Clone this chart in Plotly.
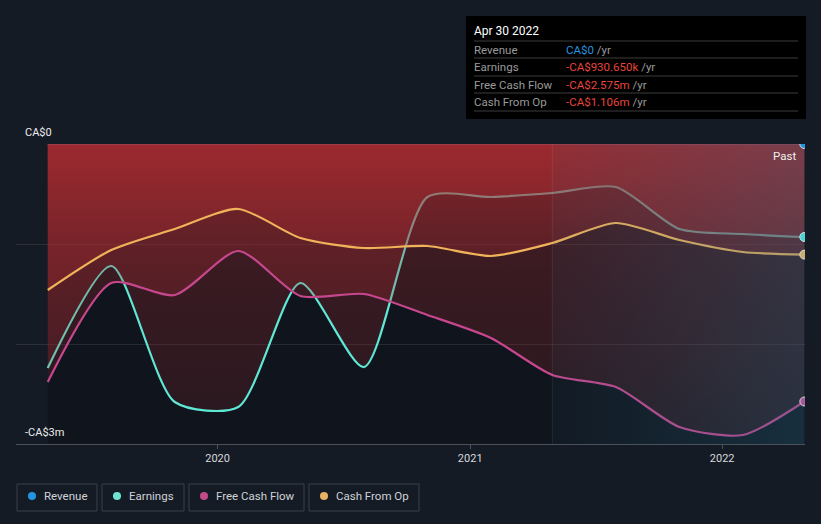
import plotly.graph_objects as go

# ---------------- data (CA$ millions) ----------------
dates = ['2019-04-30', '2019-07-31', '2019-10-31', '2020-01-31', '2020-04-30',
         '2020-07-31', '2020-10-31', '2021-01-31', '2021-04-30', '2021-07-31',
         '2021-10-31', '2022-01-31', '2022-04-30']
revenue = [0, 0, 0, 0, 0, 0, 0, 0, 0, 0, 0, 0, 0]
earnings = [-2.24, -1.22, -2.58, -2.63, -1.39, -2.23, -0.53, -0.53, -0.49, -0.43, -0.85, -0.90, -0.93]
free_cash_flow = [-2.38, -1.39, -1.51, -1.07, -1.52, -1.50, -1.71, -1.94, -2.31, -2.43, -2.83, -2.91, -2.575]
cash_from_op = [-1.46, -1.06, -0.85, -0.65, -0.94, -1.04, -1.02, -1.12, -0.99, -0.79, -0.96, -1.08, -1.106]

series_names = ['Revenue', 'Earnings', 'Free Cash Flow', 'Cash From Op']
series_colors = ['#2394df', '#5ee8d5', '#c7478e', '#f0b35a']
legend_dot_colors = ['#2394df', '#6fe3d2', '#c04a8a', '#e8b262']

tooltip_title = 'Apr 30 2022'
tooltip_values = ['CA$0', '-CA$930.650k', '-CA$2.575m', '-CA$1.106m']
tooltip_value_colors = ['#2394df', '#e8453c', '#e8453c', '#e8453c']

y_labels = ['CA$0', '-CA$3m']
y_label_vals = [0, -3]
past_start = '2021-04-30'
past_end = '2022-04-30'

# ---------------- styling ----------------
BG = '#151b25'
FONT = 'Roboto'
W, H = 821, 524
L, R, T, B = 16, 16, 144, 80
pw, ph = W - L - R, H - T - B


def px2paper_x(px):
    return (px - L) / pw


def px2paper_y(py):
    return (H - B - py) / ph


red_scale = [[0.0, 'rgba(180,45,50,0.13)'], [0.33, 'rgba(180,45,50,0.21)'],
             [0.5, 'rgba(180,45,50,0.24)'], [0.667, 'rgba(180,45,50,0.28)'],
             [0.833, 'rgba(180,45,50,0.36)'], [1.0, 'rgba(180,45,50,0.47)']]
red_grad = dict(type='vertical', colorscale=red_scale, start=-3, stop=0)

fig = go.Figure()

# dark data background
fig.add_shape(type='rect', xref='x', yref='y', x0=dates[0], x1=dates[-1], y0=-3, y1=0,
              fillcolor='#10141c', line_width=0, layer='below')

SM = 0.7
# revenue line
fig.add_trace(go.Scatter(x=dates, y=revenue, mode='lines',
                         line=dict(color=series_colors[0], width=2, shape='spline', smoothing=SM)))
# earnings
fig.add_trace(go.Scatter(x=dates, y=earnings, mode='lines', fill='tozeroy', fillgradient=red_grad,
                         line=dict(color=series_colors[1], width=2.2, shape='spline', smoothing=SM)))
# free cash flow
fig.add_trace(go.Scatter(x=dates, y=free_cash_flow, mode='lines', fill='tozeroy', fillgradient=red_grad,
                         line=dict(color=series_colors[2], width=2.2, shape='spline', smoothing=SM)))
# cash from op
fig.add_trace(go.Scatter(x=dates, y=cash_from_op, mode='lines', fill='tozeroy', fillgradient=red_grad,
                         line=dict(color=series_colors[3], width=2.2, shape='spline', smoothing=SM)))

# "Past" overlay
fig.add_trace(go.Scatter(x=[past_start, past_end, past_end, past_start, past_start],
                         y=[0, 0, -3, -3, 0], mode='lines', line=dict(width=0),
                         fill='toself',
                         fillgradient=dict(type='horizontal',
                                           colorscale=[[0, 'rgba(40,110,140,0.07)'],
                                                       [1, 'rgba(40,110,140,0.30)']])))

# end markers
end_vals = [revenue[-1], earnings[-1], free_cash_flow[-1], cash_from_op[-1]]
marker_cols = ['#2394df', '#45d6d6', '#a55a9e', '#c9ac72']
for v, c in zip(end_vals, marker_cols):
    fig.add_trace(go.Scatter(x=[dates[-1]], y=[v], mode='markers',
                             marker=dict(size=9, color=c, line=dict(color='#d8d8d8', width=1))))

# boundary line of past region
fig.add_shape(type='line', xref='x', yref='y', x0=past_start, x1=past_start, y0=-3, y1=0,
              line=dict(color='rgba(255,255,255,0.08)', width=1))

annotations = []
# y labels
for txt, v in zip(y_labels, y_label_vals):
    annotations.append(dict(text=txt, xref='paper', yref='y', x=px2paper_x(23), y=v,
                            xanchor='left', yanchor='middle', yshift=12, showarrow=False,
                            font=dict(family=FONT, size=11, color='#ececec')))
# Past label
annotations.append(dict(text='Past', xref='paper', yref='y', x=px2paper_x(798), y=0,
                        xanchor='right', yanchor='middle', yshift=-12, showarrow=False,
                        font=dict(family=FONT, size=11.5, color='#f0f0f0')))

shapes = []
# tooltip box
shapes.append(dict(type='rect', xref='paper', yref='paper', x0=px2paper_x(466), x1=px2paper_x(806),
                   y0=px2paper_y(119), y1=px2paper_y(16), fillcolor='#000000', line_width=0))
for ly in [41, 58, 76, 93, 111]:
    shapes.append(dict(type='line', xref='paper', yref='paper', x0=px2paper_x(474), x1=px2paper_x(798),
                       y0=px2paper_y(ly), y1=px2paper_y(ly), line=dict(color='#3c3c3c', width=1)))
annotations.append(dict(text=tooltip_title, xref='paper', yref='paper', x=px2paper_x(472), y=px2paper_y(31),
                        xanchor='left', yanchor='middle', showarrow=False,
                        font=dict(family=FONT, size=12, color='#ffffff')))
row_y = [49.5, 67, 84.5, 102]
for name, val, col, ry in zip(series_names, tooltip_values, tooltip_value_colors, row_y):
    annotations.append(dict(text=name, xref='paper', yref='paper', x=px2paper_x(472), y=px2paper_y(ry),
                            xanchor='left', yanchor='middle', showarrow=False,
                            font=dict(family=FONT, size=11.5, color='#9a9a9a')))
    annotations.append(dict(text=f"<span style='color:{col}'>{val}</span> /yr", xref='paper', yref='paper',
                            x=px2paper_x(564), y=px2paper_y(ry), xanchor='left', yanchor='middle',
                            showarrow=False, font=dict(family=FONT, size=11.5, color='#9a9a9a')))

# custom legend
legend_boxes = [(17, 97), (102, 184), (189, 304), (309, 419)]
for (bx0, bx1), name, dc in zip(legend_boxes, series_names, legend_dot_colors):
    shapes.append(dict(type='rect', xref='paper', yref='paper', x0=px2paper_x(bx0), x1=px2paper_x(bx1),
                       y0=px2paper_y(511), y1=px2paper_y(484), fillcolor='rgba(0,0,0,0)',
                       line=dict(color='#3a404b', width=1)))
    cx = bx0 + 15
    shapes.append(dict(type='circle', xref='paper', yref='paper', x0=px2paper_x(cx - 4), x1=px2paper_x(cx + 4),
                       y0=px2paper_y(500), y1=px2paper_y(492), fillcolor=dc, line_width=0))
    annotations.append(dict(text=name, xref='paper', yref='paper', x=px2paper_x(bx0 + 25), y=px2paper_y(496),
                            xanchor='left', yanchor='middle', showarrow=False,
                            font=dict(family=FONT, size=11.5, color='#cfd2d8')))

fig.update_layout(
    width=W, height=H,
    margin=dict(l=L, r=R, t=T, b=B),
    paper_bgcolor=BG, plot_bgcolor=BG,
    showlegend=False, hovermode=False,
    annotations=annotations,
    shapes=list(fig.layout.shapes) + shapes,
    font=dict(family=FONT, color='#d0d3d8'),
)
fig.update_xaxes(type='date', range=['2019-03-15', '2022-05-01'],
                 tickvals=['2020-01-01', '2021-01-01', '2022-01-01'], ticktext=['2020', '2021', '2022'],
                 showgrid=False, zeroline=False, showline=True, linecolor='#4a505c', linewidth=1,
                 ticks='outside', ticklen=4, tickcolor='#4a505c',
                 tickfont=dict(family=FONT, size=11, color='#d6d8dc'))
fig.update_yaxes(range=[-3, 0], tickvals=[-3, -2, -1, 0], showticklabels=False,
                 showgrid=True, gridcolor='rgba(255,255,255,0.09)', gridwidth=1, zeroline=False,
                 showline=False)

fig.write_html('out.html')
